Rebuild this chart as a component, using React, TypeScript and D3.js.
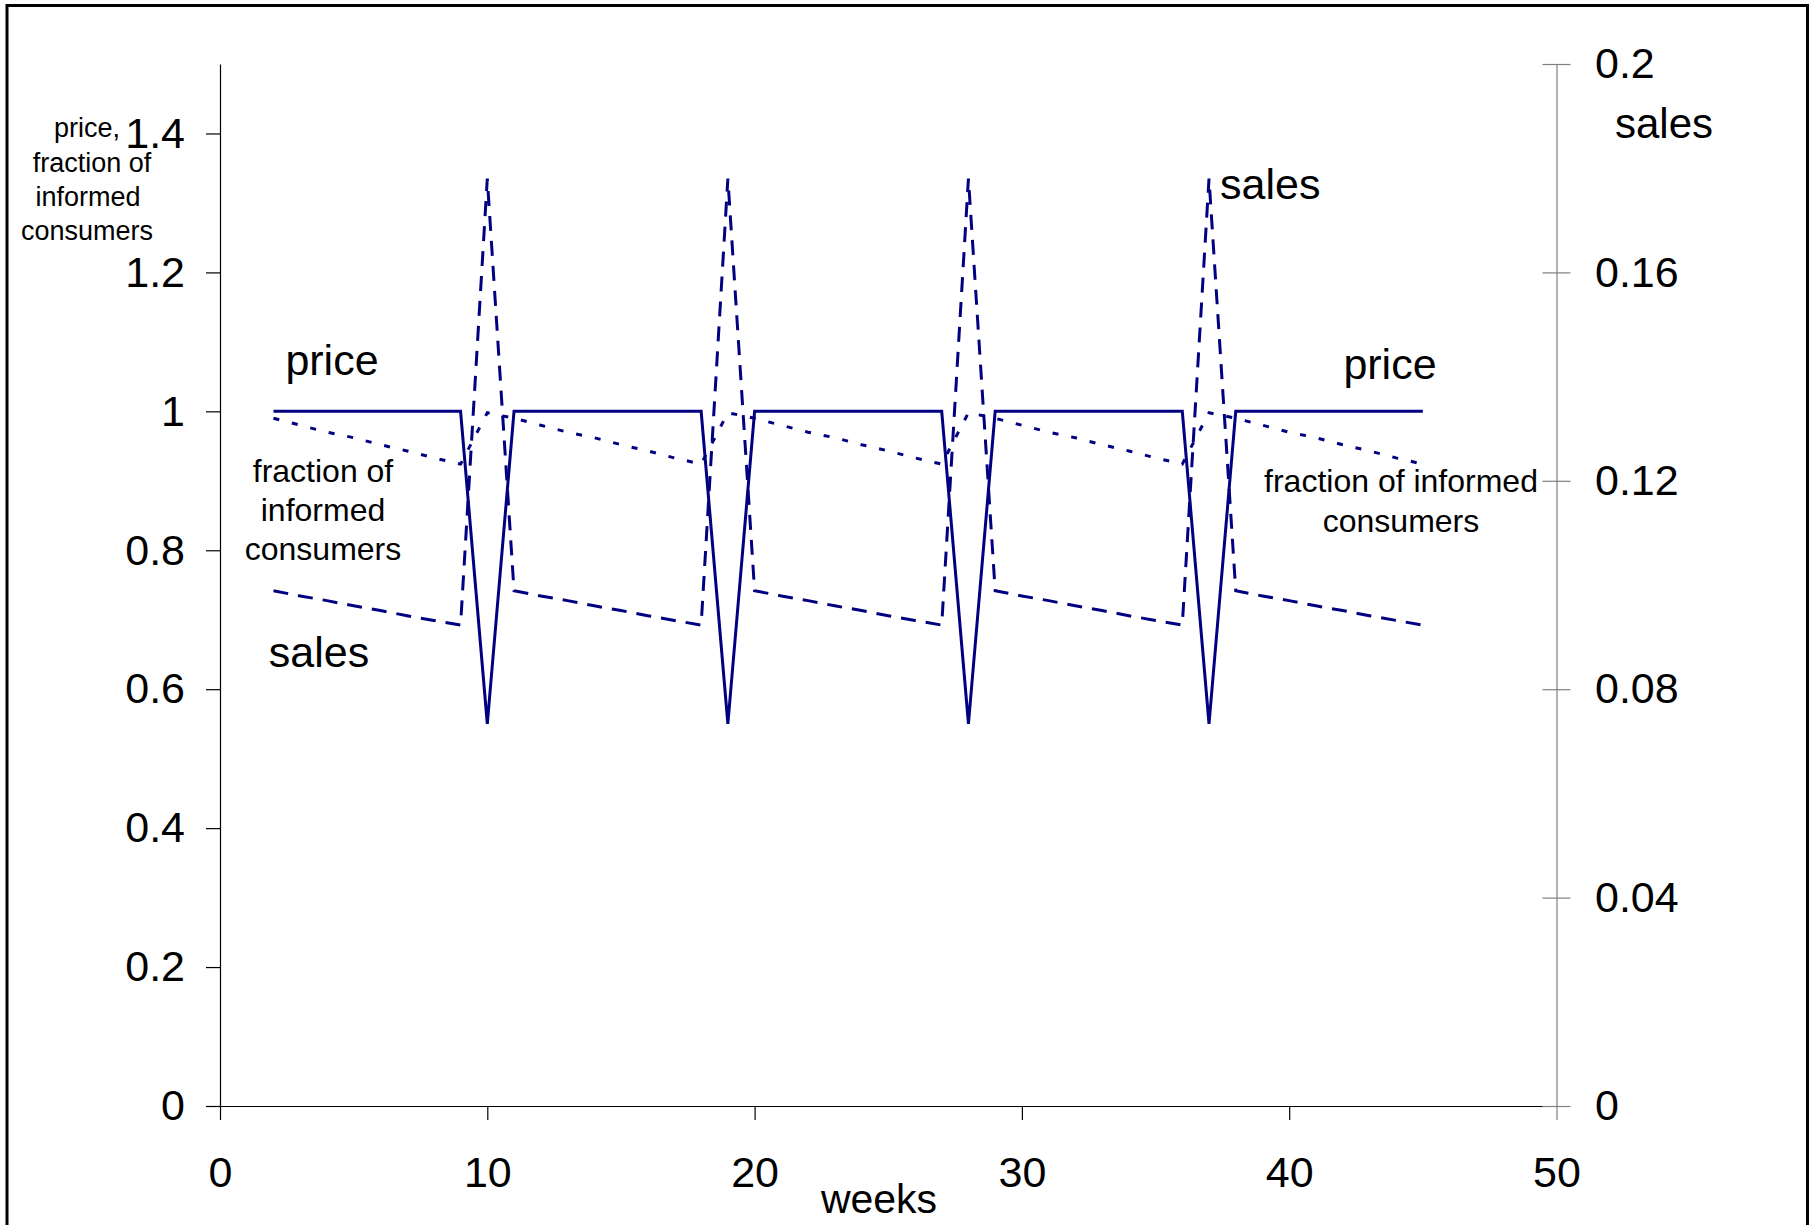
import React, { useEffect, useRef } from 'react';
import * as d3 from 'd3';

// weekly simulation output
const weeks = [2, 3, 4, 5, 6, 7, 8, 9, 10, 11, 12, 13, 14, 15, 16, 17, 18, 19, 20, 21, 22, 23,
  24, 25, 26, 27, 28, 29, 30, 31, 32, 33, 34, 35, 36, 37, 38, 39, 40, 41, 42, 43, 44, 45];

const price = [1, 1, 1, 1, 1, 1, 1, 1, 0.55,
  1, 1, 1, 1, 1, 1, 1, 1, 0.55,
  1, 1, 1, 1, 1, 1, 1, 1, 0.55,
  1, 1, 1, 1, 1, 1, 1, 1, 0.55,
  1, 1, 1, 1, 1, 1, 1, 1];

const informed = [0.99, 0.98, 0.97, 0.962, 0.952, 0.943, 0.933, 0.924, 0.998,
  0.99, 0.98, 0.97, 0.962, 0.952, 0.943, 0.933, 0.924, 0.998,
  0.99, 0.98, 0.97, 0.962, 0.952, 0.943, 0.933, 0.924, 0.998,
  0.99, 0.98, 0.97, 0.962, 0.952, 0.943, 0.933, 0.924, 0.998,
  0.99, 0.98, 0.97, 0.962, 0.952, 0.943, 0.933, 0.924];

const sales = [0.0989, 0.0979, 0.097, 0.096, 0.0951, 0.0941, 0.0932, 0.0923, 0.178,
  0.0989, 0.0979, 0.097, 0.096, 0.0951, 0.0941, 0.0932, 0.0923, 0.178,
  0.0989, 0.0979, 0.097, 0.096, 0.0951, 0.0941, 0.0932, 0.0923, 0.178,
  0.0989, 0.0979, 0.097, 0.096, 0.0951, 0.0941, 0.0932, 0.0923, 0.178,
  0.0989, 0.0979, 0.097, 0.096, 0.0951, 0.0941, 0.0932, 0.0923];

const xTicks = [0, 10, 20, 30, 40, 50];
const leftTicks = [0, 0.2, 0.4, 0.6, 0.8, 1, 1.2, 1.4];
const rightTicks = [0, 0.04, 0.08, 0.12, 0.16, 0.2];

const W = 1813;
const H = 1225;
const FONT = '"Liberation Sans", Arial, sans-serif';
const NAVY = '#000080';

const App: React.FC = () => {
  const svgRef = useRef<SVGSVGElement>(null);

  useEffect(() => {
    if (!svgRef.current) return;
    const svg = d3.select(svgRef.current);
    svg.selectAll('*').remove();

    const left = 220, right = 1556.5, top = 64, bottom = 1106;

    const x = d3.scaleLinear().domain([0, 50]).range([left, right]);
    const yL = d3.scaleLinear().domain([0, 1.5]).range([bottom, top]);
    const yR = d3.scaleLinear().domain([0, 0.2]).range([bottom, top]);

    // frame
    svg.append('rect')
      .attr('x', 7).attr('y', 5.5)
      .attr('width', 1800.5).attr('height', 1300)
      .attr('fill', 'none').attr('stroke', '#000').attr('stroke-width', 3);

    // x axis
    const gx = svg.append('g')
      .attr('transform', `translate(0,${bottom})`)
      .call(d3.axisBottom(x).tickValues(xTicks).tickSize(14).tickSizeOuter(0).tickPadding(36)
        .tickFormat(d => String(d)));
    gx.selectAll('text').attr('font-size', 43).attr('font-family', FONT).attr('fill', '#000');
    gx.selectAll('line,path').attr('stroke', '#000').attr('stroke-width', 1.2);
    // the tick under the right axis belongs to that (grey) axis
    gx.selectAll<SVGGElement, number>('.tick').filter(d => d === 50)
      .select('line').attr('stroke', '#808080');

    // left axis
    const gl = svg.append('g')
      .attr('transform', `translate(${left},0)`)
      .call(d3.axisLeft(yL).tickValues(leftTicks).tickSize(14).tickSizeOuter(0).tickPadding(21)
        .tickFormat(d => String(d)));
    gl.selectAll('text').attr('font-size', 43).attr('font-family', FONT).attr('fill', '#000');
    gl.selectAll('line,path').attr('stroke', '#000').attr('stroke-width', 1.2);

    // right axis, ticks cross the line
    const gr = svg.append('g')
      .attr('transform', `translate(${right},0)`)
      .call(d3.axisRight(yR).tickValues(rightTicks).tickSize(14).tickSizeOuter(0).tickPadding(24.5)
        .tickFormat(d => String(d)));
    gr.selectAll('.tick line').attr('x1', -14);
    gr.selectAll('text').attr('font-size', 43).attr('font-family', FONT).attr('fill', '#000');
    gr.selectAll('line,path').attr('stroke', '#808080').attr('stroke-width', 1.2);

    const lineL = d3.line<number>().x((_, i) => x(weeks[i])).y(d => yL(d));
    const lineR = d3.line<number>().x((_, i) => x(weeks[i])).y(d => yR(d));

    svg.append('path').attr('d', lineL(informed) || '')
      .attr('fill', 'none').attr('stroke', NAVY).attr('stroke-width', 3)
      .attr('stroke-dasharray', '6,13');
    svg.append('path').attr('d', lineR(sales) || '')
      .attr('fill', 'none').attr('stroke', NAVY).attr('stroke-width', 3)
      .attr('stroke-dasharray', '15,10');
    svg.append('path').attr('d', lineL(price) || '')
      .attr('fill', 'none').attr('stroke', NAVY).attr('stroke-width', 3);
  }, []);

  const txt = { fontFamily: FONT, fill: '#000' } as React.CSSProperties;

  return (
    <div style={{ position: 'absolute', left: 0, top: 0, width: W, height: H, background: '#fff' }}>
      <svg ref={svgRef} width={W} height={H} style={{ position: 'absolute', left: 0, top: 0 }} />
      <svg width={W} height={H} style={{ position: 'absolute', left: 0, top: 0, pointerEvents: 'none' }}>
        {/* axis titles */}
        <text style={txt} fontSize={27} textAnchor="middle">
          <tspan x={87} y={137}>price,</tspan>
          <tspan x={92} y={171.5}>fraction of</tspan>
          <tspan x={88} y={206}>informed</tspan>
          <tspan x={87} y={240}>consumers</tspan>
        </text>
        <text style={txt} fontSize={42} textAnchor="middle" x={1664} y={138}>sales</text>
        <text style={txt} fontSize={41} textAnchor="middle" x={879} y={1213}>weeks</text>

        {/* series annotations */}
        <text style={txt} fontSize={43} textAnchor="middle" x={332} y={375}>price</text>
        <text style={txt} fontSize={32} textAnchor="middle">
          <tspan x={323} y={482}>fraction of</tspan>
          <tspan x={323} y={521}>informed</tspan>
          <tspan x={323} y={560}>consumers</tspan>
        </text>
        <text style={txt} fontSize={43} textAnchor="middle" x={319} y={667}>sales</text>

        <text style={txt} fontSize={43} x={1220} y={199}>sales</text>
        <text style={txt} fontSize={43} textAnchor="middle" x={1390} y={379}>price</text>
        <text style={txt} fontSize={32} textAnchor="middle">
          <tspan x={1401} y={492}>fraction of informed</tspan>
          <tspan x={1401} y={532}>consumers</tspan>
        </text>
      </svg>
    </div>
  );
};

export default App;
